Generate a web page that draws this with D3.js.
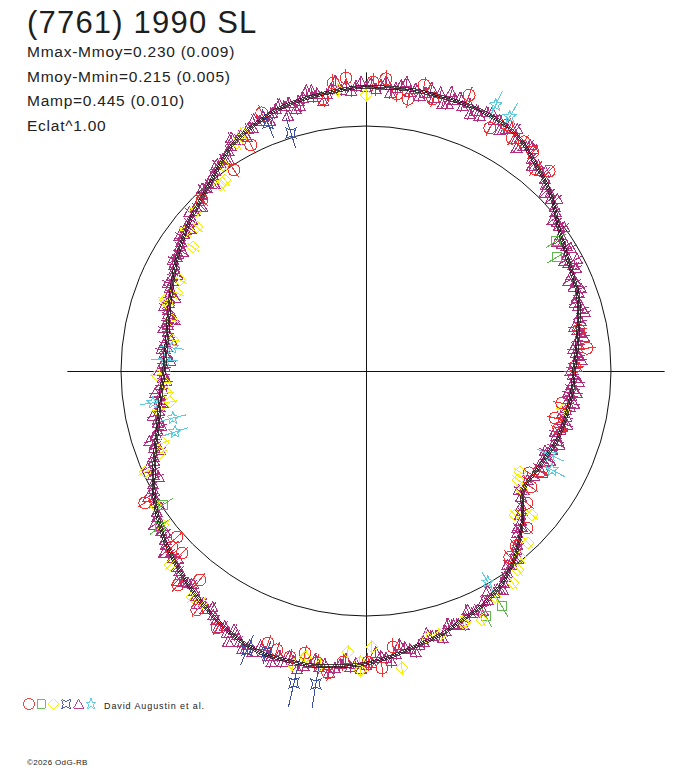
<!DOCTYPE html>
<html><head><meta charset="utf-8">
<script src="https://cdn.jsdelivr.net/npm/d3@7"></script>
<style>body{margin:0;background:#fff} svg{display:block}</style>
</head><body><svg id="c" width="688" height="768"></svg>
<script>
// ---------- data ----------
const title = "(7761) 1990 SL";
const statLines = ["Mmax-Mmoy=0.230 (0.009)", "Mmoy-Mmin=0.215 (0.005)", "Mamp=0.445 (0.010)", "Eclat^1.00"];
const mMoyMinusMin = 0.215;
const legendText = "David Augustin et al.";
const credit = "\u00A92026 OdG-RB";

// fitted lightcurve: phase (deg, clockwise from top) and relative flux
const fitPhase = [0,10,20,25,30,34.6,39,43,47,51,54,57,60,65,70,75,80,85,90,95,100,105,110,115,120,125,129,133,137,141,144,148,154,159,164,170,175,180,185,190,195,200,205,210,215,220,225,230,235,240,245,250,255,260,265,270,275,280,285,290,295,300,305,310,315,320,325,330,335,340,345,350,355];
const fitFlux  = [1.160,1.163,1.162,1.160,1.153,1.130,1.094,1.068,1.037,1.000,0.975,0.960,0.945,0.930,0.920,0.900,0.878,0.862,0.849,0.846,0.840,0.835,0.829,0.815,0.806,0.800,0.820,0.875,0.922,0.970,1.000,1.035,1.070,1.090,1.118,1.143,1.170,1.195,1.210,1.222,1.225,1.228,1.215,1.190,1.162,1.133,1.104,1.073,1.038,1.000,0.955,0.915,0.880,0.856,0.838,0.824,0.822,0.823,0.835,0.851,0.870,0.895,0.918,0.943,0.966,0.995,1.035,1.077,1.100,1.123,1.136,1.143,1.152];
const fitSigma = 0.006;

// observations [phase deg, relative flux(, error)]
const circles = [[353.5,1.183],[356.1,1.199],[1.4,1.18],[3.9,1.195],[6.4,1.138],[8.8,1.123],[11.5,1.191],[13.8,1.143],[351,1.124],[20.5,1.202],[27,1.113],[29.8,1.157],[32.1,1.122],[34.6,1.136],[37.3,1.124],[39.9,1.075],[42.5,1.106],[338,1.136],[333,1.035],[326.7,0.982],[316.2,0.967],[79.1,0.885],[84.1,0.907],[88.9,0.853],[99.3,0.81],[104,0.795],[106.5,0.821],[122,0.785],[119.7,0.823],[125.1,0.823],[129.4,0.85],[134.3,0.918],[139.4,0.941],[142.3,0.96],[239.2,1.051],[228.7,1.027],[227.8,1.069],[225.3,1.056],[221.3,1.163],[218.5,1.09],[215.3,1.195],[210.1,1.212],[199.8,1.18],[197.7,1.195],[192.2,1.178],[189.5,1.208],[187.2,1.242],[184.5,1.192],[179.6,1.188],[176.9,1.214],[174.4,1.132],[194.9,1.208]];
const circleErr = 0.035;

const squares = [[55.6,0.94,0.05],[59.2,0.908,0.05],[150,1.108,0.05],[153.9,1.114,0.05],[236.6,0.993,0.05],[232.9,1.055,0.05]];

const diamonds = [[0,1.127],[354.3,1.153],[332.7,1.093],[330.5,1.069],[325.2,1.024],[323.6,0.969],[321.9,0.965],[312.9,0.953],[310.4,0.906],[305.6,0.869],[307.5,0.931],[296.1,0.845],[289.5,0.87],[292.4,0.835],[288.9,0.858],[284.7,0.819],[279.1,0.798],[268.9,0.853],[266.6,0.822],[263.7,0.817],[261,0.81],[250.5,0.879],[248.3,0.905],[259.4,0.864],[245.4,0.992],[237.6,1.02],[232.8,1.04],[225.3,1.126],[217.6,1.164],[215.3,1.16],[193.9,1.236],[192,1.194],[183.7,1.149],[181.2,1.188],[178.8,1.127],[181.1,1.221],[173.1,1.221],[167.1,1.114],[164.3,1.119],[158.5,1.101],[188.9,1.215],[123.3,0.752],[125.6,0.764],[127.3,0.801],[134,0.846],[130.9,0.897],[136.7,0.965],[140.4,0.986],[142.6,1.022],[145.3,1.053],[150.3,1.062],[155,1.121],[158.9,1.102],[101.2,0.82]];
const diamondErr = 0.03;

const xstars = [[338.4,1.088,0.063],[342.5,1.018,0.065],[193,1.307,0.1],[189.1,1.294,0.1],[203.1,1.238,0.065],[199.4,1.216,0.05]];

const triangles = [[352,1.14],[353,1.16],[355,1.15],[356,1.17],[357,1.145],[358,1.165],[359,1.18],[0,1.16],[1,1.175],[2,1.15],[3,1.17],[4,1.185],[6,1.16],[7,1.175],[9,1.155],[10,1.17],[12,1.16],[14,1.15],[15,1.175],[17,1.14],[18,1.165],[20,1.15],[21,1.17],[23,1.155],[24,1.14],[25,1.165],[27,1.15],[28,1.16],[30,1.14],[31,1.155],[33,1.13],[35,1.12],[36,1.14],[38,1.10],[40,1.095],[41,1.08],[43,1.07],[44,1.055],[46,1.045],[47,1.03],[49,1.02],[50,1.01],[52,0.99],[53,0.985],[55,0.97],[57,0.955],[58,0.965],[60,0.945],[62,0.935],[63,0.95],[65,0.925],[67,0.93],[68,0.915],[70,0.925],[71,0.91],[73,0.905],[74,0.92],[76,0.895],[77,0.9],[79,0.88],[80,0.89],[82,0.87],[83,0.875],[85,0.86],[86,0.87],[88,0.85],[89,0.86],[91,0.845],[92,0.855],[94,0.84],[95,0.85],[97,0.845],[98,0.835],[100,0.845],[101,0.83],[103,0.84],[104,0.825],[106,0.835],[107,0.83],[109,0.82],[110,0.835],[112,0.82],[113,0.825],[115,0.81],[117,0.815],[119,0.805],[122,0.81],[124,0.795],[127,0.805],[129,0.815],[131,0.84],[132,0.855],[134,0.88],[135,0.9],[136,0.89],[138,0.93],[139,0.94],[140,0.955],[142,0.975],[143,0.99],[145,1.005],[146,1.015],[147,1.03],[149,1.04],[150,1.045],[152,1.06],[153,1.055],[155,1.075],[156,1.08],[158,1.085],[160,1.1],[161,1.095],[163,1.11],[165,1.12],[166,1.115],[168,1.13],[169,1.14],[171,1.15],[172,1.14],[174,1.16],[176,1.175],[177,1.165],[179,1.19],[180,1.2],[182,1.195],[183,1.21],[185,1.2],[186,1.22],[188,1.21],[189,1.225],[191,1.215],[192,1.23],[194,1.22],[196,1.235],[197,1.215],[199,1.23],[200,1.22],[202,1.235],[203,1.215],[205,1.22],[206,1.2],[208,1.21],[209,1.19],[211,1.185],[212,1.175],[214,1.17],[215,1.155],[217,1.15],[218,1.14],[220,1.13],[221,1.14],[223,1.115],[224,1.11],[226,1.1],[227,1.09],[229,1.085],[230,1.07],[232,1.06],[233,1.05],[235,1.04],[236,1.03],[238,1.02],[239,1.005],[241,0.995],[242,0.985],[244,0.965],[245,0.955],[247,0.94],[248,0.935],[250,0.92],[251,0.91],[253,0.895],[254,0.885],[256,0.875],[257,0.87],[259,0.86],[260,0.855],[262,0.85],[263,0.845],[265,0.835],[266,0.84],[268,0.83],[269,0.825],[271,0.82],[272,0.83],[274,0.815],[275,0.825],[277,0.82],[278,0.83],[280,0.815],[281,0.825],[283,0.83],[284,0.835],[286,0.84],[287,0.845],[289,0.85],[290,0.855],[292,0.86],[293,0.87],[295,0.87],[296,0.88],[298,0.885],[299,0.895],[301,0.9],[302,0.905],[304,0.915],[305,0.92],[307,0.93],[308,0.935],[310,0.945],[311,0.94],[313,0.955],[314,0.965],[316,0.975],[317,0.98],[319,0.99],[320,1.0],[322,1.015],[323,1.02],[325,1.035],[326,1.045],[328,1.06],[329,1.07],[331,1.08],[332,1.09],[334,1.1],[335,1.095],[337,1.11],[338,1.12],[340,1.12],[341,1.13],[343,1.13],[344,1.14],[346,1.135],[347,1.145],[349,1.14],[350,1.15],[343,1.09],[17,1.19],[62,0.975],[120,0.83],[207,1.24],[285,0.81],[330,1.1],[96,0.865],
[345,1.105],[348,1.17],[351,1.115],[354,1.19],[5,1.14],[8,1.19],[11,1.145],[13,1.185],[16,1.135],[19,1.18],[22,1.13],[26,1.175],[29,1.125],[32,1.165],[34,1.10],[37,1.135],[39,1.075],[42,1.095],[45,1.03],[48,1.05],[51,0.98],[54,1.0],[56,0.94],[59,0.975],[61,0.925],[64,0.955],[66,0.905],[69,0.94],[72,0.895],[75,0.925],[78,0.87],[81,0.9],[84,0.85],[87,0.88],[90,0.835],[93,0.87],[96,0.83],[99,0.86],[102,0.82],[105,0.85],[108,0.81],[111,0.845],[114,0.8],[116,0.835],[128,0.79],[133,0.86],[137,0.905],[141,0.99],[144,0.98],[148,1.055],[151,1.025],[154,1.09],[157,1.06],[159,1.11],[162,1.085],[164,1.135],[167,1.1],[170,1.165],[173,1.125],[175,1.19],[178,1.15],[181,1.215],[184,1.18],[187,1.24],[190,1.195],[193,1.25],[195,1.205],[198,1.25],[201,1.2],[204,1.24],[207,1.185],[210,1.21],[213,1.15],[216,1.175],[219,1.12],[222,1.155],[225,1.085],[228,1.11],[231,1.05],[234,1.07],[237,1.005],[240,1.025],[243,0.95],[246,0.975],[249,0.9],[252,0.93],[255,0.865],[258,0.89],[261,0.84],[264,0.865],[267,0.815],[270,0.845],[273,0.8],[276,0.84],[279,0.805],[282,0.845],[285,0.82],[288,0.865],[291,0.835],[294,0.885],[297,0.865],[300,0.91],[303,0.89],[306,0.94],[309,0.92],[312,0.97],[315,0.945],[318,1.0],[321,0.98],[324,1.04],[327,1.025],[330,1.09],[333,1.07],[336,1.125],[339,1.095],[342,1.145],[346,1.115],[349,1.165]];
const triangleErr = 0.025;

const stars = [[26,1.208,0.065],[29.5,1.192,0.065],[114.5,0.826,0.06],[118,0.86,0.06],[150,0.995,0.05],[276.8,0.797,0.05],[273.1,0.822,0.055],[261.5,0.879,0.055],[256.3,0.811,0.055],[252.3,0.818,0.055]];

// ---------- drawing ----------
const svg = d3.select("#c");
const cx = 366, cy = 371;
const r = d3.scaleLinear().domain([0, 1]).range([0, 245]);
const ang = d3.scaleLinear().domain([0, 360]).range([0, 2 * Math.PI]);
const axisMax = Math.pow(10, 0.4 * mMoyMinusMin);
const pos = (deg, f) => { const a = ang(deg), rr = r(f); return [cx + rr * Math.sin(a), cy - rr * Math.cos(a)]; };

const col = {circle:"#f03232", square:"#5cb84a", diamond:"#f6ee00", xstar:"#3b4fa6", triangle:"#b0307f", star:"#5ccbe0"};

const shapes = {
  circle: () => "M6,0A6,6 0 1,1 -6,0A6,6 0 1,1 6,0Z",
  square: () => "M-4.5,-4.5H4.5V4.5H-4.5Z",
  diamond: () => "M0,-6L6,0L0,6L-6,0Z",
  xstar: () => "M-5,-5L0,-3L5,-5L3,0L5,5L0,3L-5,5L-3,0Z",
  triangle: () => "M0,-5.5L5.5,4.5L-5.5,4.5Z",
  star: () => {
    let p = [];
    for (let i = 0; i < 10; i++) {
      const rr = i % 2 ? 2.7 : 6.4, a = i * Math.PI / 5;
      p.push([rr * Math.sin(a), -rr * Math.cos(a)]);
    }
    return "M" + p.map(q => q[0].toFixed(2) + "," + q[1].toFixed(2)).join("L") + "Z";
  }
};

// reference circle (mean flux)
svg.append("circle").attr("cx", cx).attr("cy", cy).attr("r", r(1))
  .attr("fill", "none").attr("stroke", "#111").attr("stroke-width", 1);

// axes
svg.append("line").attr("x1", cx - r(axisMax)).attr("x2", cx + r(axisMax)).attr("y1", cy + 0.5).attr("y2", cy + 0.5)
  .attr("stroke", "#111").attr("stroke-width", 1);
svg.append("line").attr("y1", cy - r(axisMax)).attr("y2", cy + r(axisMax)).attr("x1", cx + 0.5).attr("x2", cx + 0.5)
  .attr("stroke", "#111").attr("stroke-width", 1);

function drawSeries(data, kind, errConst) {
  const g = svg.append("g").attr("shape-rendering", "crispEdges");
  data.forEach(d => {
    const e = d.length > 2 ? d[2] : errConst;
    const p1 = pos(d[0], d[1] - e), p2 = pos(d[0], d[1] + e), p = pos(d[0], d[1]);
    g.append("line").attr("x1", p1[0]).attr("y1", p1[1]).attr("x2", p2[0]).attr("y2", p2[1])
      .attr("stroke", col[kind]).attr("stroke-width", 1);
    g.append("path").attr("d", shapes[kind]()).attr("transform", `translate(${p[0]},${p[1]})`)
      .attr("fill", "none").attr("stroke", col[kind]).attr("stroke-width", 1);
  });
}
drawSeries(triangles, "triangle", triangleErr);
drawSeries(circles, "circle", circleErr);
drawSeries(squares, "square", 0);
drawSeries(diamonds, "diamond", diamondErr);
drawSeries(xstars, "xstar", 0);
drawSeries(stars, "star", 0);

// fitted curve with +/- sigma
const fit = fitPhase.map((p, i) => [p, fitFlux[i]]);
const gFit = svg.append("g").attr("transform", `translate(${cx},${cy})`).attr("shape-rendering", "crispEdges");
[-fitSigma, 0, fitSigma].forEach(off => {
  gFit.append("path")
    .attr("d", d3.lineRadial().angle(d => ang(d[0])).radius(d => r(d[1] + off)).curve(d3.curveCardinalClosed.tension(0.2))(fit))
    .attr("fill", "none").attr("stroke", "#1a1a1a").attr("stroke-width", 0.8);
});

// texts
const font = "'Liberation Sans', Arial, Helvetica, sans-serif";
svg.append("text").attr("x", 27).attr("y", 33).text(title)
  .attr("font-family", font).attr("font-size", 31).attr("letter-spacing", 1.2).attr("fill", "#1e1e1e");
statLines.forEach((t, i) => {
  svg.append("text").attr("x", 27).attr("y", 57 + i * 24.6).text(t)
    .attr("font-family", font).attr("font-size", 15.5).attr("letter-spacing", 0.75).attr("fill", "#222");
});

// legend
const legKinds = ["circle", "square", "diamond", "xstar", "triangle", "star"];
const legX = d3.scalePoint().domain(legKinds).range([29, 91]);
legKinds.forEach(k => {
  svg.append("path").attr("d", shapes[k]()).attr("transform", `translate(${legX(k)},704) scale(0.9)`)
    .attr("fill", "none").attr("stroke", col[k]).attr("stroke-width", 1).attr("shape-rendering", "crispEdges");
});
svg.append("text").attr("x", 104).attr("y", 709).text(legendText)
  .attr("font-family", font).attr("font-size", 9).attr("letter-spacing", 0.9).attr("fill", "#222");
svg.append("text").attr("x", 27).attr("y", 765).text(credit)
  .attr("font-family", font).attr("font-size", 8).attr("letter-spacing", 0.35).attr("fill", "#222");
</script>
</body></html>
